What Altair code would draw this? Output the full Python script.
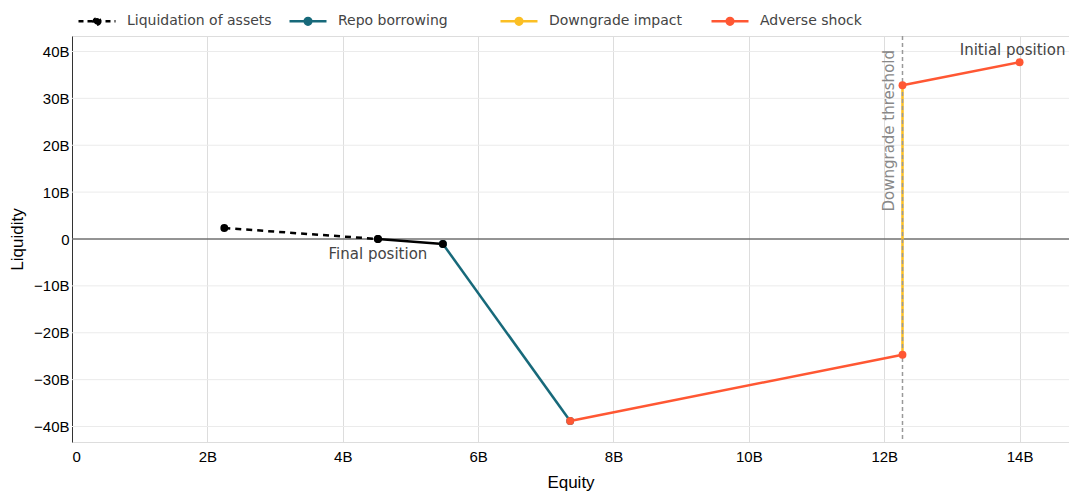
import altair as alt
import pandas as pd

FONT = "DejaVu Sans"

# ---- data (values in billions) ----
series_names = ["Liquidation of assets", "Repo borrowing", "Downgrade impact", "Adverse shock"]
series_colors = ["#000000", "#17697a", "#fbbf24", "#ff5733"]

liq_x = [2.25, 4.52]
liq_y = [2.35, 0.0]

final_x = [4.52, 5.48]
final_y = [0.0, -1.07]

repo_x = [5.48, 7.36]
repo_y = [-1.07, -38.8]

down_x = [12.27, 12.27]
down_y = [32.8, -24.7]

shock_x = [14.0, 12.27, 12.27, 7.36]
shock_y = [37.7, 32.8, -24.7, -38.8]
shock_seg = [1, 1, 2, 2]

threshold_x = [12.27]

ann_text = ["Final position", "Initial position"]
ann_x = [4.52, 14.0]
ann_y = [0.0, 37.7]

x_ticks = [0, 2, 4, 6, 8, 10, 12, 14]
y_ticks = [-40, -30, -20, -10, 0, 10, 20, 30, 40]

# ---- tables ----
rows = []
for i, (x, y) in enumerate(zip(liq_x, liq_y)):
    rows.append(dict(series="Liquidation of assets", seg=1, x=x, y=y, o=i))
for i, (x, y) in enumerate(zip(repo_x, repo_y)):
    rows.append(dict(series="Repo borrowing", seg=1, x=x, y=y, o=i))
for i, (x, y) in enumerate(zip(down_x, down_y)):
    rows.append(dict(series="Downgrade impact", seg=1, x=x, y=y, o=i))
for i, (x, y, s) in enumerate(zip(shock_x, shock_y, shock_seg)):
    rows.append(dict(series="Adverse shock", seg=s, x=x, y=y, o=i))
df = pd.DataFrame(rows)

df_final = pd.DataFrame(dict(x=final_x, y=final_y, o=[0, 1]))
df_thr = pd.DataFrame(dict(x=threshold_x, label=["Downgrade threshold"]))
df_ann = pd.DataFrame(dict(text=ann_text, x=ann_x, y=ann_y))
df_zero = pd.DataFrame(dict(y=[0]))
df_ygrid = pd.DataFrame(dict(y=y_ticks))

xscale = alt.Scale(domain=[0, 14.73], nice=False, zero=False)
yscale = alt.Scale(domain=[-43.3, 43.3], nice=False, zero=False)

xaxis = alt.Axis(
    values=x_ticks, title="Equity", domain=False, domainColor="transparent", domainOpacity=0,
    ticks=False,
    labelExpr="datum.value == 0 ? '0' : datum.value + 'B'",
    labelPadding=7, titlePadding=10, titleFontSize=17, labelFontSize=15,
    titleFontWeight="normal", grid=True,
)
yaxis = alt.Axis(
    values=y_ticks, title="Liquidity", domain=True, domainColor="#333333", domainWidth=1,
    ticks=False,
    labelExpr="datum.value == 0 ? '0' : (datum.value < 0 ? '\u2212' : '') + abs(datum.value) + 'B'",
    labelPadding=3, titlePadding=7, titleFontSize=17, labelFontSize=15,
    titleFontWeight="normal", grid=False,
)

X = alt.X("x:Q", scale=xscale, axis=xaxis)
Y = alt.Y("y:Q", scale=yscale, axis=yaxis)

symbol_path = "M-1,0H1M0.18,0A0.18,0.18,0,1,1,-0.18,0A0.18,0.18,0,1,1,0.18,0Z"
legend = alt.Legend(
    title=None, orient="none", direction="horizontal", columns=4, gridAlign="all",
    legendX=5, legendY=-35, columnPadding=12,
    symbolType=symbol_path, symbolSize=1369, symbolStrokeWidth=2.5,
    symbolFillColor={"expr": "scale('color', datum.value)"},
    symbolDash={"expr": "datum.value === 'Liquidation of assets' ? [5, 4] : []"},
    symbolOpacity=1,
    labelFontSize=14, labelColor="#444444", labelOffset=10, labelFont=FONT,
    labelLimit=300,
)
color = alt.Color("series:N", scale=alt.Scale(domain=series_names, range=series_colors), legend=legend)

base = alt.Chart(df)

ygrid = alt.Chart(df_ygrid).mark_rule(color="#ebebeb", strokeWidth=1).encode(y=Y)
zero = alt.Chart(df_zero).mark_rule(color="#333333", strokeWidth=1).encode(y=Y)

def line_layer(name, **kw):
    return base.transform_filter(alt.datum.series == name).mark_line(strokeWidth=2.5, **kw).encode(
        x=X, y=Y, color=color, order="o:Q", detail="seg:N"
    )

repo = line_layer("Repo borrowing")
liq = line_layer("Liquidation of assets", strokeDash=[6, 5])
down = line_layer("Downgrade impact")
shock = line_layer("Adverse shock")

final = alt.Chart(df_final).mark_line(strokeWidth=2.5, color="#000000").encode(
    x=X, y=Y, order="o:Q"
)

thr = alt.Chart(df_thr).mark_rule(color="#999999", strokeWidth=1.5, strokeDash=[4, 3]).encode(x=X)
thr_text = alt.Chart(df_thr).mark_text(
    angle=270, align="right", baseline="bottom", dy=-5, fontSize=15, font=FONT, color="#888888"
).encode(x=X, y=alt.value(14), text="label:N")

PSIZE = 62
pts_repo = base.transform_filter(alt.datum.series == "Repo borrowing").mark_point(
    filled=True, size=PSIZE, opacity=1).encode(x=X, y=Y, color=color)
pts_shock = base.transform_filter(alt.datum.series == "Adverse shock").mark_point(
    filled=True, size=PSIZE, opacity=1).encode(x=X, y=Y, color=color)
pts_final = alt.Chart(df_final).mark_point(filled=True, size=PSIZE, opacity=1, color="#000000").encode(
    x=X, y=Y)
pts_liq = base.transform_filter(alt.datum.series == "Liquidation of assets").mark_point(
    filled=True, size=PSIZE, opacity=1).encode(x=X, y=Y, color=color)

ann1 = alt.Chart(df_ann.iloc[[0]]).mark_text(fontSize=15, font=FONT, color="#444444", dy=15).encode(
    x=X, y=Y, text="text:N")
ann2 = alt.Chart(df_ann.iloc[[1]]).mark_text(fontSize=15, font=FONT, color="#444444", dy=-12, dx=-7).encode(
    x=X, y=Y, text="text:N")

chart = alt.layer(
    ygrid, zero, repo, final, liq, down, thr, shock, pts_repo, pts_final, pts_liq, pts_shock,
    thr_text, ann1, ann2
).properties(
    width=997, height=406,
    autosize=alt.AutoSizeParams(type="none"),
    padding={"left": 64, "top": 28, "right": 0, "bottom": 54},
).configure_view(strokeWidth=0, stroke="transparent").configure_axis(
    gridColor="#ebebeb", gridWidth=1, labelColor="#444444", titleColor="#444444",
    labelFont=FONT, titleFont=FONT, titleFontWeight="normal",
).configure_axisX(domain=False, domainColor="transparent", domainWidth=0).configure(background="white")

chart.save("out.html", embed_options={"renderer": "svg", "actions": False})
